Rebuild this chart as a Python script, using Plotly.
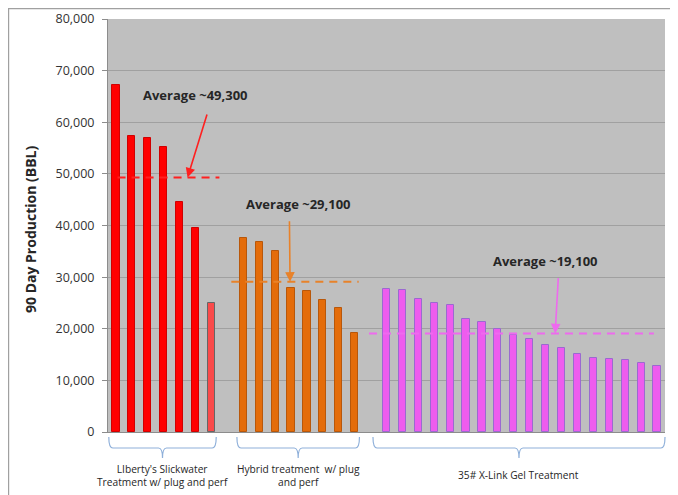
import plotly.graph_objects as go

# ---- data ----
group_names = ["LIberty's Slickwater<br>Treatment w/ plug and perf",
               "Hybrid treatment  w/ plug<br>and perf",
               "35# X-Link Gel Treatment"]
slickwater = [67200, 57300, 57000, 55200, 44500, 39600, 25000]
hybrid = [37600, 36800, 35100, 27900, 27300, 25600, 24100, 19200]
xlink_gel = [27700, 27500, 25700, 25000, 24600, 21900, 21300, 20000, 18800,
             18000, 16800, 16200, 15100, 14300, 14200, 14000, 13300, 12700]
averages = [49300, 29100, 19100]
avg_labels = ["Average ~49,300", "Average ~29,100", "Average ~19,100"]
y_ticks = [0, 10000, 20000, 30000, 40000, 50000, 60000, 70000, 80000]
y_title = "90 Day Production (BBL)"

# ---- styling ----
fill_colors = ["#ff0000", "#e46c0a", "#ee5cee"]
edge_colors = ["#d00000", "#b8570a", "#9a6ad0"]
avg_colors = ["#ff2020", "#e8822a", "#ee6aee"]
text_color = "#262626"
brace_color = "#8fb0da"

# page body has an 8px margin, so the figure is shrunk to compensate
W, H = 670, 487
ML, MR, MT, MB = 100, 13, 11, 63
PW, PH = W - ML - MR, H - MT - MB

groups = [slickwater, hybrid, xlink_gel]
starts = []
pos = 0
for g in groups:
    starts.append(pos)
    pos += len(g) + 1
n_slots = pos - 1
xmin, xmax = -0.5, n_slots - 0.5

avg_ext = [(0.1, 0.5), (-0.75, 0.25), (-1.1, -0.2)]
arrow_geo = [(4.5, 5.75, 12500, 16000), (2.94, 2.9, 12000, 15000), (10.6, 10.8, 11000, 14000)]
text_dx = [5.0, 3.5, 10.0]
brace_ext = [(-0.45, 0.3), (-0.4, 0.3), (-0.85, 0.5)]

fig = go.Figure()
for k, g in enumerate(groups):
    xs = [starts[k] + i for i in range(len(g))]
    lines = [edge_colors[k]] * len(g)
    fills = [fill_colors[k]] * len(g)
    widths = [1] * len(g)
    if k == 0:
        fills[-1] = "#fa4a4a"
        lines[-1] = "#666666"
        widths[-1] = 1
    fig.add_trace(go.Bar(x=xs, y=g, width=0.45,
                         marker=dict(color=fills, line=dict(color=lines, width=widths)),
                         showlegend=False, hoverinfo="y"))
    a, b = avg_ext[k]
    fig.add_trace(go.Scatter(x=[starts[k] + a, starts[k] + len(g) - 1 + b],
                             y=[averages[k], averages[k]], mode="lines",
                             line=dict(color=avg_colors[k], width=2, dash="8px,6px"),
                             showlegend=False, hoverinfo="skip"))
    hx, tx, tdy, txy = arrow_geo[k]
    fig.add_annotation(x=starts[k] + hx, y=averages[k], ax=starts[k] + tx,
                       ay=averages[k] + tdy, xref="x", yref="y", axref="x", ayref="y",
                       text="", showarrow=True, arrowhead=2, arrowsize=1.2,
                       arrowwidth=1.6, arrowcolor=avg_colors[k])
    fig.add_annotation(x=starts[k] + text_dx[k], y=averages[k] + txy, xref="x", yref="y",
                       text="<b>%s</b>" % avg_labels[k], showarrow=False,
                       font=dict(family="Open Sans", size=13, color=text_color))


def px(v):
    return (v - xmin) / (xmax - xmin)


def py(dpx):
    return -dpx / PH


for k, g in enumerate(groups):
    a, b = brace_ext[k]
    x0 = px(starts[k] + a)
    x1 = px(starts[k] + len(g) - 1 + b)
    xc = (x0 + x1) / 2
    r = 4 / PW
    top, mid, bot = py(5), py(16), py(26)
    path = (f"M {x0},{top} Q {x0},{mid} {x0+r},{mid} L {xc-r},{mid} "
            f"Q {xc},{mid} {xc},{bot} Q {xc},{mid} {xc+r},{mid} "
            f"L {x1-r},{mid} Q {x1},{mid} {x1},{top}")
    fig.add_shape(type="path", path=path, xref="paper", yref="paper",
                  line=dict(color=brace_color, width=1.2))
    fig.add_annotation(x=xc, y=py(43), xref="paper", yref="paper",
                       text=group_names[k], showarrow=False,
                       xanchor="center", yanchor="middle",
                       font=dict(family="Open Sans", size=10.2, color=text_color))

# y-axis title as a rotated annotation
fig.add_annotation(x=(22 - ML) / PW, y=(PH + MT - 222) / PH, xref="paper", yref="paper",
                   text="<b>%s</b>" % y_title, textangle=-90, showarrow=False,
                   xanchor="center", yanchor="middle",
                   font=dict(family="Open Sans", size=14, color=text_color))

# outer frame (only top and left edges are visible)
fig.add_shape(type="rect", xref="paper", yref="paper",
              x0=(0.6 - ML) / PW, x1=(W + 20 - ML) / PW,
              y0=(PH + MT - H - 20) / PH, y1=(PH + MT - 0.6) / PH,
              line=dict(color="#a0a0a0", width=1.2), layer="below")

fig.update_layout(
    width=W, height=H,
    margin=dict(l=ML, r=MR, t=MT, b=MB),
    paper_bgcolor="white", plot_bgcolor="#bfbfbf",
    bargap=0, showlegend=False,
    font=dict(family="Open Sans", color=text_color),
)
fig.update_xaxes(range=[xmin, xmax], showticklabels=False, showgrid=False,
                 zeroline=False, showline=True, linecolor="#8c8c8c", linewidth=1,
                 ticks="")
fig.update_yaxes(range=[0, 80000], tickvals=y_ticks, tickformat=",",
                 showgrid=True, gridcolor="#a0a0a0", gridwidth=1,
                 zeroline=False, showline=True, linecolor="#8c8c8c",
                 ticks="outside", ticklen=5, tickcolor="#8c8c8c",
                 ticklabelstandoff=5,
                 tickfont=dict(family="Open Sans", size=12.5, color="#333333"),
                 automargin=False)

fig.write_html("out.html")
